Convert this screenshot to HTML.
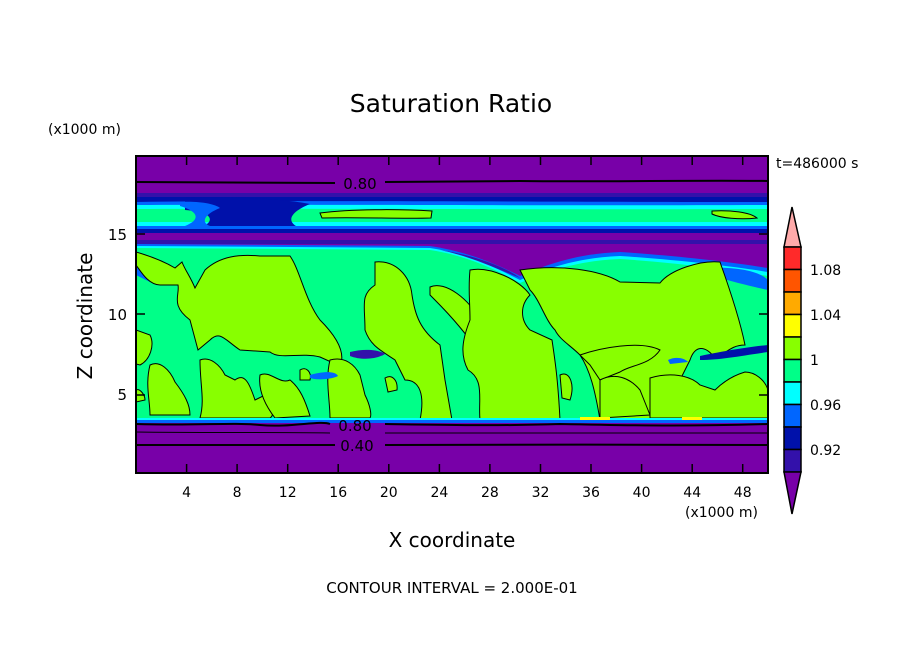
<!DOCTYPE html>
<html><head><meta charset="utf-8"><style>
html,body{margin:0;padding:0;background:#fff}
svg{display:block}
text{font-family:"DejaVu Sans","Liberation Sans",sans-serif;fill:#000}
</style></head><body>
<svg width="904" height="654" viewBox="0 0 904 654" xmlns="http://www.w3.org/2000/svg">
<defs><clipPath id="c"><rect x="136" y="156" width="632" height="317"/></clipPath></defs>
<g clip-path="url(#c)">
<rect x="136" y="156" width="632" height="317" fill="#7800a8"/>
<!-- upper band -->
<rect x="136" y="193" width="632" height="50" fill="#3311aa"/>
<rect x="136" y="197" width="632" height="34" fill="#0011aa"/>
<path d="M136 202 C300 200 500 202 768 202 L768 228 L136 228Z" fill="#0066ff"/>
<path d="M136 205 C300 204 500 206 768 205 L768 226 L136 226Z" fill="#00ffff"/>
<path d="M136 209 C300 208 500 210 768 209 L768 222 L136 222Z" fill="#00ff88"/>
<path d="M185 198 C220 196 280 198 310 204 C290 212 285 222 300 228 L200 228 C215 222 215 212 185 210Z" fill="#0011aa"/>
<path d="M180 202 C200 201 215 204 220 208 C205 214 200 222 210 226 L185 226 C200 220 200 212 180 206Z" fill="#0066ff"/>
<path d="M320 213 C350 209 400 209 432 211 L431 218 C400 219 360 217 322 218Z M712 211 C730 210 750 212 757 218 C740 220 720 218 712 214Z" fill="#88ff00" stroke="#000" stroke-width="1"/>
<rect x="136" y="226" width="632" height="4" fill="#0066ff"/>
<rect x="136" y="229" width="632" height="4" fill="#0011aa"/>
<rect x="136" y="233" width="632" height="7" fill="#7800a8"/>
<rect x="136" y="240" width="632" height="4" fill="#3311aa"/>
<!-- main green region -->
<path d="M136 244 L430 246 C470 252 500 266 520 276 C540 268 570 254 620 252 C680 256 730 262 768 268 L768 420 L136 420Z" fill="#0066ff"/>
<path d="M136 246 L430 248 C470 254 500 270 520 280 C540 272 570 258 620 256 C680 260 730 266 768 272 L768 420 L136 420Z" fill="#00ffff"/>
<path d="M136 248 L430 250 C470 256 500 272 520 283 C540 275 570 261 620 259 C680 263 730 270 768 276 L768 420 L136 420Z" fill="#00ff88"/>
<path d="M440 250 C470 256 500 270 520 278 C510 270 480 256 440 250Z" fill="#3311aa"/>
<path d="M136 258 C160 262 180 270 190 280 L150 282 L136 275Z M585 276 C600 274 612 278 612 282 C600 287 588 285 585 280Z M700 268 C740 266 760 272 768 280 L768 290 C740 284 720 278 700 272Z" fill="#0066ff"/>
<!-- lime blobs -->
<g fill="#88ff00" stroke="#000" stroke-width="1">
<path d="M136 252 C150 256 165 262 175 268 L182 262 C185 270 190 276 195 288 L205 270 C220 256 240 254 260 256 L290 256 C300 270 305 300 320 320 C340 340 345 355 340 366 L320 357 C300 352 280 360 270 352 L240 350 C225 340 220 330 210 340 L198 350 L190 320 C170 305 180 295 178 285 L160 285 C148 285 140 270 136 265Z"/>
<path d="M375 262 C395 260 410 275 412 295 C415 315 420 330 440 345 L445 380 L452 420 L420 420 C425 395 420 380 405 380 L395 360 C380 350 370 345 365 330 C365 305 360 295 375 285Z"/>
<path d="M430 287 C445 280 470 300 480 320 C490 340 495 350 485 360 L470 340 C455 320 440 305 430 295Z"/>
<path d="M470 270 C490 266 520 280 530 295 C520 305 520 320 530 330 L552 340 C555 360 558 380 560 420 L480 420 C478 400 485 380 468 370 C460 355 462 340 470 320 C470 300 468 290 470 270Z"/>
<path d="M520 270 C560 264 600 270 620 282 L660 283 C670 270 700 260 720 262 C730 290 740 320 745 345 C730 345 725 355 715 358 C705 345 695 345 690 360 L680 380 C680 400 690 410 700 420 L600 420 C595 390 590 370 580 355 C570 345 560 340 555 330 C545 320 540 300 530 290Z"/>
<path d="M580 355 C600 348 640 340 660 350 C650 365 630 365 620 372 L600 380 L590 365Z"/>
<path d="M136 330 L150 335 C155 345 150 360 140 365 L136 364Z"/>
<path d="M150 365 C160 360 170 370 175 382 C185 395 190 405 190 415 L150 415 C150 400 145 385 150 365Z"/>
<path d="M200 360 C210 356 220 365 225 375 L235 380 C245 372 250 385 255 400 L265 395 C272 410 275 415 270 418 L200 418 C205 400 200 385 200 360Z"/>
<path d="M260 375 C270 370 280 385 290 380 C300 388 305 400 310 416 L275 418 C265 405 258 390 260 375Z"/>
<path d="M330 360 C345 356 355 365 360 375 L365 395 C370 405 372 415 370 418 L330 418 C330 400 325 380 330 360Z"/>
<path d="M600 380 C615 372 630 378 640 390 L650 415 L600 418Z"/>
<path d="M650 378 C670 372 690 375 700 385 L715 390 C725 380 735 375 745 372 C755 372 765 380 768 390 L768 418 L650 418Z"/>
<path d="M136 390 C140 388 145 395 145 400 L136 402Z"/>
<path d="M385 378 C392 374 398 380 397 390 L388 392Z"/>
<path d="M300 370 C306 366 312 372 310 380 L300 380Z"/>
<path d="M560 375 C570 370 575 385 570 400 L562 398Z"/>
</g>
<path d="M350 352 C365 348 380 350 385 354 C375 360 360 360 350 356Z" fill="#3311aa"/>
<path d="M310 375 C320 372 335 370 338 376 C330 380 315 380 310 378Z" fill="#0066ff"/>
<path d="M700 356 C720 352 740 348 768 345 L768 352 C740 356 720 360 700 360Z" fill="#0011aa"/>
<path d="M668 360 C675 356 685 358 688 362 L670 364Z" fill="#0066ff"/>
<rect x="136" y="418" width="632" height="4" fill="#00ffff"/>
<rect x="136" y="420" width="632" height="3" fill="#0066ff"/>
<rect x="580" y="417" width="30" height="3" fill="#ffff00"/>
<rect x="682" y="417" width="20" height="3" fill="#ffff00"/>
<rect x="136" y="423" width="632" height="50" fill="#7800a8"/>
<g fill="none" stroke="#000" stroke-width="2">
<path d="M136 182 L335 183 M385 182 L520 181 C600 182 700 180 768 181"/>
<path d="M136 424 C200 426 230 422 260 425 C290 428 320 420 330 424 M385 424 C450 425 500 426 560 424 C650 426 700 426 768 424"/>
<path d="M136 432 C200 433 260 432 330 433 M385 433 C500 434 650 432 768 433" stroke-width="1"/>
<path d="M136 445 L335 445 M385 445 C500 445 650 444 768 445"/>
</g>
</g>
<g font-size="15">
<text x="360" y="189" text-anchor="middle">0.80</text>
<text x="355" y="431" text-anchor="middle">0.80</text>
<text x="357" y="451" text-anchor="middle">0.40</text>
</g>
<rect x="136" y="156" width="632" height="317" fill="none" stroke="#000" stroke-width="2"/>
<g stroke="#000" stroke-width="1.5">
<path d="M186.6 473v-9M237.1 473v-9M287.7 473v-9M338.2 473v-9M388.8 473v-9M439.4 473v-9M489.9 473v-9M540.5 473v-9M591 473v-9M641.6 473v-9M692.2 473v-9M742.7 473v-9"/>
<path d="M186.6 156v9M237.1 156v9M287.7 156v9M338.2 156v9M388.8 156v9M439.4 156v9M489.9 156v9M540.5 156v9M591 156v9M641.6 156v9M692.2 156v9M742.7 156v9"/>
<path d="M136 395h9M136 314h9M136 234h9M768 395h-9M768 314h-9M768 234h-9"/>
</g>
<g font-size="14" text-anchor="middle">
<text x="186.6" y="497">4</text><text x="237.1" y="497">8</text><text x="287.7" y="497">12</text><text x="338.2" y="497">16</text><text x="388.8" y="497">20</text><text x="439.4" y="497">24</text><text x="489.9" y="497">28</text><text x="540.5" y="497">32</text><text x="591" y="497">36</text><text x="641.6" y="497">40</text><text x="692.2" y="497">44</text><text x="742.7" y="497">48</text>
</g>
<g font-size="15" text-anchor="end">
<text x="127" y="400">5</text><text x="127" y="320">10</text><text x="127" y="240">15</text>
</g>
<text x="451" y="112" font-size="25" text-anchor="middle">Saturation Ratio</text>
<text x="48" y="134" font-size="14">(x1000 m)</text>
<text x="685" y="517" font-size="14">(x1000 m)</text>
<text x="776" y="168" font-size="14">t=486000 s</text>
<text x="452" y="547" font-size="20" text-anchor="middle">X coordinate</text>
<text transform="translate(92,316) rotate(-90)" font-size="20" text-anchor="middle">Z coordinate</text>
<text x="452" y="593" font-size="15" text-anchor="middle">CONTOUR INTERVAL = 2.000E-01</text>
<g stroke="#000" stroke-width="1.5">
<path d="M792 207 L801 247 L784 247Z" fill="#ffaaaa"/>
<rect x="784" y="247" width="17" height="22.5" fill="#ff2a2a"/>
<rect x="784" y="269.5" width="17" height="22.5" fill="#ff5500"/>
<rect x="784" y="292" width="17" height="22.5" fill="#ffaa00"/>
<rect x="784" y="314.5" width="17" height="22.5" fill="#ffff00"/>
<rect x="784" y="337" width="17" height="22.5" fill="#88ff00"/>
<rect x="784" y="359.5" width="17" height="22.5" fill="#00ff88"/>
<rect x="784" y="382" width="17" height="22.5" fill="#00ffff"/>
<rect x="784" y="404.5" width="17" height="22.5" fill="#0066ff"/>
<rect x="784" y="427" width="17" height="22.5" fill="#0011aa"/>
<rect x="784" y="449.5" width="17" height="22.5" fill="#3311aa"/>
<path d="M784 472 L801 472 L792 514Z" fill="#7800a8"/>
</g>
<g font-size="14">
<text x="810" y="275">1.08</text><text x="810" y="320">1.04</text><text x="810" y="365">1</text><text x="810" y="410">0.96</text><text x="810" y="455">0.92</text>
</g>
</svg>
</body></html>
